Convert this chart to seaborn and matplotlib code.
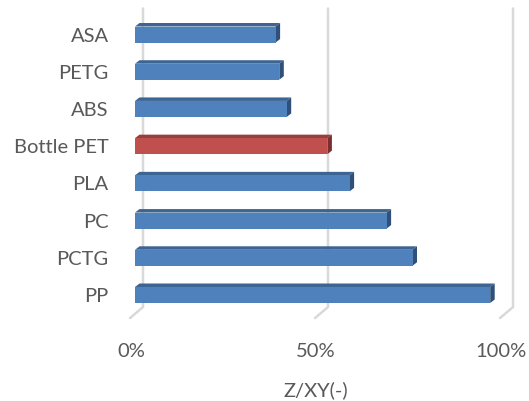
import matplotlib
matplotlib.use("Agg")
import matplotlib.pyplot as plt
from matplotlib.transforms import ScaledTranslation, blended_transform_factory, IdentityTransform
from matplotlib.patches import Polygon
from matplotlib.lines import Line2D
import seaborn as sns
import pandas as pd

categories = ["ASA", "PETG", "ABS", "Bottle PET", "PLA", "PC", "PCTG", "PP"]
values = [0.38, 0.39, 0.41, 0.52, 0.58, 0.68, 0.75, 0.96]
highlight = "Bottle PET"
xticks = [0, 0.5, 1.0]
xticklabels = ["0%", "50%", "100%"]
xlabel = "Z/XY(-)"

BLUE, BLUE_TOP, BLUE_SIDE = "#4f81bd", "#3d6594", "#2f5078"
RED, RED_TOP, RED_SIDE = "#c0504d", "#94403d", "#7a2f2d"
TXT = "#595959"
GRID = "#d9d9d9"

sns.set_theme(style="white")
plt.rcParams["font.family"] = ["Lato", "DejaVu Sans"]

df = pd.DataFrame({"material": categories, "value": values})
palette = {c: (RED if c == highlight else BLUE) for c in categories}

W, H = 529, 401
fig = plt.figure(figsize=(W / 100, H / 100), dpi=100, facecolor="white")
ax = fig.add_axes([135 / W, (H - 313.6) / H, 370 / W, 297.7 / H])
ax.patch.set_visible(False)

bar_h = 0.43
sns.barplot(data=df, x="value", y="material", hue="material", palette=palette,
            order=categories, orient="h", width=bar_h, legend=False, ax=ax,
            saturation=1, edgecolor="none", linewidth=0, zorder=3)
ax.set_xlim(0, 1)
ax.set_ylim(len(categories) - 0.5, -0.5)

px = lambda dx, dy: ScaledTranslation(dx / 100, dy / 100, fig.dpi_scale_trans)

# 3D gridlines (back wall + floor), placed from the x scale, behind the axes
bt = blended_transform_factory(ax.transData, ax.transAxes)
for xv in xticks:
    p_top = bt.transform((xv, 1.025)) + (8, 0)
    p_bot = bt.transform((xv, 0.022)) + (8, 0)
    p_fr = bt.transform((xv, -0.015)) + (-5, 0)
    xs = [p_top[0], p_bot[0], p_fr[0]]
    ys = [p_top[1], p_bot[1], p_fr[1]]
    fig.add_artist(Line2D(xs, ys, transform=IdentityTransform(), color=GRID,
                          lw=1.8, zorder=-1))

# 3D faces of bars derived from data values
disp_inv = ax.transData.inverted()
dx, dy = 4.5, 3.5
for i, (c, v) in enumerate(zip(categories, values)):
    top_c = RED_TOP if c == highlight else BLUE_TOP
    side_c = RED_SIDE if c == highlight else BLUE_SIDE
    y0 = i - bar_h / 2
    y1 = i + bar_h / 2
    a = ax.transData.transform((0, y0))
    b = ax.transData.transform((v, y0))
    d = ax.transData.transform((v, y1))
    top = [a, b, b + (dx, dy), a + (dx, dy)]
    side = [b, b + (dx, dy), d + (dx, dy), d]
    ax.add_patch(Polygon(disp_inv.transform(top), closed=True, fc=top_c, ec="none",
                         zorder=2.5, clip_on=False))
    ax.add_patch(Polygon(disp_inv.transform(side), closed=True, fc=side_c, ec="none",
                         zorder=2.5, clip_on=False))

for s in ax.spines.values():
    s.set_visible(False)
ax.grid(False)
ax.set_xticks(xticks)
ax.set_xticklabels(xticklabels)
ax.tick_params(axis="x", length=0, pad=21, labelsize=14.5, labelcolor=TXT)
ax.tick_params(axis="y", length=0, pad=19, labelsize=14.5, labelcolor=TXT)
for lab in ax.get_xticklabels():
    lab.set_transform(lab.get_transform() + px(-4, 0))
ax.set_ylabel("")
ax.set_xlabel(xlabel, fontsize=14.5, color=TXT)
ax.xaxis.set_label_coords(0.489, -0.228)

fig.savefig("out.png", dpi=100, facecolor="white")
